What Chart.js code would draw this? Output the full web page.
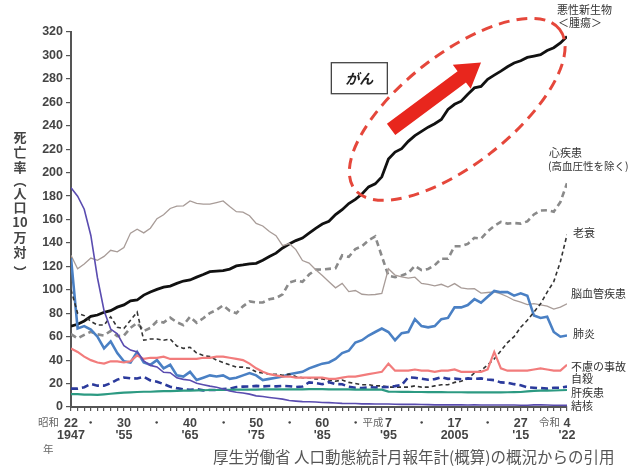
<!DOCTYPE html>
<html>
<head>
<meta charset="utf-8">
<script src="https://cdn.jsdelivr.net/npm/chart.js@4.4.1/dist/chart.umd.min.js"></script>
<style>
  html, body { margin: 0; padding: 0; background: #fff; }
  #wrap { width: 643px; height: 467px; position: relative; }
</style>
</head>
<body>
<div id="wrap"><canvas id="deathChart"></canvas></div>
<script>
// years on the x axis (1947 = 昭和22 ... 2022 = 令和4)
const years = [
  1947, 1948, 1949, 1950, 1951, 1952, 1953, 1954, 1955, 1956,
  1957, 1958, 1959, 1960, 1961, 1962, 1963, 1964, 1965, 1966,
  1967, 1968, 1969, 1970, 1971, 1972, 1973, 1974, 1975, 1976,
  1977, 1978, 1979, 1980, 1981, 1982, 1983, 1984, 1985, 1986,
  1987, 1988, 1989, 1990, 1991, 1992, 1993, 1994, 1995, 1996,
  1997, 1998, 1999, 2000, 2001, 2002, 2003, 2004, 2005, 2006,
  2007, 2008, 2009, 2010, 2011, 2012, 2013, 2014, 2015, 2016,
  2017, 2018, 2019, 2020, 2021, 2022
];

// death rate per 100k, one array per cause
const cancer = [
  69.0, 70.6, 73.4, 77.4, 78.5, 80.8, 82.2, 85.2, 87.1, 90.6,
  91.3, 95.5, 98.2, 100.4, 102.3, 103.2, 105.5, 107.5, 108.4, 110.8,
  113.0, 115.5, 115.9, 116.3, 117.7, 120.4, 121.2, 122.2, 122.6, 125.3,
  128.4, 131.3, 135.7, 139.1, 142.0, 144.2, 148.3, 152.5, 156.1, 158.5,
  164.2, 168.4, 173.6, 177.2, 181.7, 187.8, 190.4, 196.4, 211.6, 217.5,
  220.4, 226.7, 231.6, 235.2, 238.8, 241.7, 245.4, 253.9, 258.3, 261.0,
  266.9, 272.3, 273.5, 279.7, 283.2, 286.6, 290.3, 293.5, 295.5, 298.3,
  299.5, 300.7, 304.2, 306.6, 310.7, 316.1
];
const heart = [
  62.2, 58.5, 61.5, 64.2, 62.0, 61.0, 65.0, 60.5, 60.9, 67.5,
  71.9, 64.8, 67.5, 73.2, 72.1, 76.2, 72.3, 69.9, 77.0, 71.9,
  75.7, 80.2, 82.8, 86.7, 82.1, 80.0, 85.9, 90.1, 89.2, 89.2,
  91.9, 93.0, 96.1, 106.2, 107.9, 106.8, 113.0, 117.2, 117.3, 117.9,
  118.4, 129.4, 128.1, 134.8, 137.2, 142.2, 145.6, 128.6, 112.0, 110.8,
  112.2, 114.3, 120.4, 116.8, 117.8, 121.0, 126.5, 126.5, 137.2, 137.2,
  139.2, 144.4, 143.7, 149.8, 154.5, 157.9, 156.5, 157.0, 156.5, 158.4,
  164.3, 167.6, 167.9, 166.6, 174.9, 190.9
];
const senility = [
  100, 80, 78, 73, 70, 70, 77, 68, 67, 74,
  81, 57, 58, 58, 57, 58, 52, 50, 51, 46,
  44, 43, 40, 38, 36, 34, 34, 33, 30, 29,
  28, 28, 27, 28, 26, 25, 25, 24, 24, 23,
  22, 23, 21, 20, 19, 19, 18, 18, 17, 17,
  17, 17, 18, 17, 17, 18, 19, 19, 21, 22,
  24, 29, 31, 36, 41, 48, 55, 60, 68, 74,
  81, 88, 98, 107, 124, 147
];
const cerebro = [
  129.4, 117.9, 122.0, 127.1, 125.2, 128.5, 133.7, 132.4, 136.1, 148.4,
  151.7, 148.6, 152.6, 160.7, 164.0, 169.4, 171.4, 171.7, 175.8, 173.8,
  173.1, 173.1, 174.4, 175.8, 171.0, 166.7, 166.3, 163.2, 156.7, 154.5,
  149.8, 146.2, 137.7, 139.5, 134.3, 125.0, 122.8, 117.2, 112.2, 106.9,
  101.7, 105.5, 98.5, 99.4, 96.2, 95.6, 96.0, 96.9, 117.9, 112.6,
  111.0, 110.0, 110.8, 105.5, 104.7, 103.4, 104.7, 102.3, 105.3, 101.7,
  100.8, 100.9, 97.2, 97.7, 98.2, 96.5, 94.1, 91.1, 89.4, 87.4,
  88.2, 87.1, 86.1, 83.5, 85.2, 88.1
];
const pneumonia = [
  127, 67, 69, 66, 60, 50, 56, 46, 39, 38,
  47, 38, 36, 40, 33, 36, 27, 26, 30, 23,
  25, 27, 26, 27, 24, 25, 27, 29, 27, 23,
  24, 25, 26, 28, 29, 30, 33, 35, 37, 38,
  41, 46, 48, 55, 57, 61, 64, 67, 64, 57,
  63, 64, 75, 69, 68, 69, 75, 76, 85, 85,
  87, 92, 89, 94, 99, 98, 98, 95, 97, 95,
  78, 76, 77, 64, 60, 61
];
const accident = [
  50, 47, 43, 40, 38, 37, 39, 39, 38, 39,
  44, 41, 42, 42, 43, 41, 41, 41, 41, 41,
  42, 42, 43, 43, 42, 41, 40, 37, 33, 30,
  28, 27, 26, 26, 25, 25, 25, 25, 25, 24,
  24, 25, 26, 26, 27, 28, 29, 30, 37, 31,
  31, 31, 32, 31, 31, 30, 31, 31, 32, 30,
  30, 30, 30, 32, 47, 33, 31, 31, 31, 31,
  32, 33, 32, 31, 31, 36
];
const suicide = [
  15.7, 15.7, 16.9, 19.6, 18.2, 18.2, 20.3, 23.4, 25.2, 24.5,
  24.3, 25.7, 22.7, 21.6, 19.6, 17.3, 16.1, 15.1, 14.7, 15.2,
  14.2, 14.5, 14.5, 15.3, 15.6, 17.0, 17.4, 17.5, 18.0, 17.6,
  17.9, 17.6, 18.0, 17.7, 17.1, 17.5, 21.0, 20.4, 19.4, 21.2,
  19.6, 19.4, 17.3, 16.4, 16.1, 16.9, 16.6, 16.9, 17.2, 17.8,
  18.8, 25.4, 25.0, 24.1, 23.3, 23.8, 25.5, 24.0, 24.2, 23.7,
  24.4, 24.0, 24.4, 23.4, 22.9, 21.0, 20.7, 19.5, 18.5, 16.8,
  16.4, 16.1, 15.7, 16.4, 16.5, 17.4
];
const liver = [
  11.0, 11.0, 10.5, 10.5, 10.3, 10.8, 11.3, 11.8, 12.3, 12.5,
  12.8, 13.0, 13.0, 13.3, 13.5, 13.5, 13.8, 14.0, 14.0, 14.2,
  14.3, 14.5, 14.5, 14.6, 14.6, 14.8, 14.8, 14.9, 14.9, 15.0,
  15.0, 15.0, 15.0, 15.1, 15.1, 15.1, 15.2, 15.2, 15.2, 15.1,
  15.0, 15.0, 15.0, 14.9, 14.9, 14.8, 14.8, 14.8, 13.2, 13.0,
  12.9, 12.9, 12.8, 12.8, 12.7, 12.7, 12.7, 12.6, 12.6, 12.6,
  12.5, 12.5, 12.5, 12.5, 12.5, 12.5, 12.6, 12.7, 12.8, 13.3,
  13.8, 14.0, 14.0, 14.1, 14.3, 14.5
];
const tuberculosis = [
  187.2, 179.9, 168.8, 146.4, 110.3, 82.2, 66.5, 62.4, 52.3, 48.6,
  46.9, 39.4, 35.5, 34.2, 29.6, 29.3, 24.9, 23.6, 22.8, 20.3,
  19.0, 17.8, 16.8, 15.4, 13.7, 12.6, 11.9, 11.0, 9.5, 8.9,
  8.1, 7.4, 6.7, 5.5, 5.0, 4.6, 4.5, 4.3, 3.9, 3.7,
  3.4, 3.1, 3.0, 3.0, 2.7, 2.7, 2.6, 2.6, 2.6, 2.3,
  2.2, 2.2, 2.3, 2.1, 2.0, 1.8, 1.9, 1.8, 1.8, 1.8,
  1.7, 1.8, 1.7, 1.7, 1.7, 1.7, 1.7, 1.7, 1.5, 1.5,
  1.8, 1.8, 1.7, 1.5, 1.5, 1.4
];

// x tick labels
const tickYears  = [1947, 1950, 1955, 1960, 1965, 1970, 1975, 1980, 1985, 1990, 1995, 2000, 2005, 2010, 2015, 2022];
const tickTop    = ['22', '・', '30', '・', '40', '・', '50', '・', '60', '・', '7', '・', '17', '・', '27', '4'];
const tickBottom = ['1947', '', "'55", '', "'65", '', "'75", '', "'85", '', "'95", '', '2005', '', "'15", "'22"];
const eraYears = [1947, 1995, 2022];
const eraNames = ['昭和', '平成', '令和'];
const yTicks = [0, 20, 40, 60, 80, 100, 120, 140, 160, 180, 200, 220, 240, 260, 280, 300, 320];

const jp = '"Noto Sans CJK JP", "Noto Sans", sans-serif';
const num = '"Liberation Sans", Arial, sans-serif';

const series = (data, color, width, dash) => ({
    data: years.map((yr, i) => ({ x: yr, y: data[i] })),
    borderColor: color, borderWidth: width, borderDash: dash || [],
    pointRadius: 0, tension: 0, fill: false
});

const notesPlugin = {
    id: 'notes',
    afterDraw(chart) {
        const { ctx, scales: { x, y } } = chart;
        const px = v => x.getPixelForValue(v), py = v => y.getPixelForValue(v);
        ctx.save();

        // red dashed oval round the cancer line
        ctx.strokeStyle = '#e5473b';
        ctx.lineWidth = 3;
        ctx.setLineDash([11, 7]);
        ctx.beginPath();
        ctx.ellipse(px(2005.4), py(254), 130, 55, -38 * Math.PI / 180, 0, Math.PI * 2);
        ctx.stroke();
        ctx.setLineDash([]);

        // red arrow
        ctx.save();
        const x0 = px(1995.4), y0 = py(237), x1 = px(2009.0), y1 = py(294);
        const len = Math.hypot(x1 - x0, y1 - y0);
        ctx.translate(x0, y0);
        ctx.rotate(Math.atan2(y1 - y0, x1 - x0));
        ctx.fillStyle = '#e8261d';
        ctx.beginPath();
        ctx.moveTo(0, -7); ctx.lineTo(len - 24, -7); ctx.lineTo(len - 24, -15);
        ctx.lineTo(len, 0);
        ctx.lineTo(len - 24, 15); ctx.lineTo(len - 24, 7); ctx.lineTo(0, 7);
        ctx.closePath();
        ctx.fill();
        ctx.restore();

        // がん box
        const bx = px(1990.6), by = py(281);
        ctx.fillStyle = '#fff';
        ctx.strokeStyle = '#444';
        ctx.lineWidth = 1.3;
        ctx.fillRect(bx - 28, by - 15, 56, 31);
        ctx.strokeRect(bx - 28, by - 15, 56, 31);
        ctx.fillStyle = '#222';
        ctx.font = 'italic bold 14px ' + jp;
        ctx.textAlign = 'center';
        ctx.textBaseline = 'middle';
        ctx.fillText('がん', bx, by + 1);

        // series names on the right
        ctx.textAlign = 'left';
        ctx.fillStyle = '#333';
        ctx.font = '11px ' + jp;
        [['悪性新生物', 557, 10], ['＜腫瘍＞', 558, 23], ['心疾患', 549, 153], ['老衰', 573, 233],
         ['脳血管疾患', 571, 294], ['肺炎', 573, 334], ['不慮の事故', 571, 367], ['自殺', 571, 379],
         ['肝疾患', 571, 393], ['結核', 571, 406]].forEach(([t, tx, ty]) => ctx.fillText(t, tx, ty));
        ctx.font = '10.5px ' + jp;
        ctx.fillText('(高血圧性を除く)', 548, 166, 84);

        // y axis title, written top to bottom
        ctx.textAlign = 'center';
        ctx.fillStyle = '#444';
        ctx.font = 'bold 13px ' + jp;
        [['死', 137], ['亡', 152], ['率', 167], ['︵', 180], ['人', 193], ['口', 207], ['10', 222], ['万', 237], ['対', 252], ['︶', 272]]
            .forEach(([t, ty]) => ctx.fillText(t, 20, ty));

        // era names before the x labels
        const eraGap = [12, 5, 7];
        ctx.font = '10.5px ' + jp;
        ctx.fillStyle = '#666';
        ctx.textAlign = 'right';
        eraYears.forEach((yr, i) => ctx.fillText(eraNames[i], px(yr) - eraGap[i], 422));
        ctx.textAlign = 'left';
        ctx.fillText('年', 43, 449);

        // source
        ctx.font = '15.5px ' + jp;
        ctx.fillStyle = '#555';
        ctx.fillText('厚生労働省 人口動態統計月報年計(概算)の概況からの引用', 213, 457, 412);
        ctx.restore();
    }
};

new Chart(document.getElementById('deathChart'), {
    type: 'line',
    data: {
        datasets: [
            series(tuberculosis, '#5a4cb0', 1.6),
            series(liver, '#2c9a82', 2.2),
            series(suicide, '#2b3a9c', 2.6, [7, 4]),
            series(accident, '#f27c7c', 2.2),
            series(senility, '#333333', 1.6, [4, 3]),
            series(pneumonia, '#4a80c4', 2.6),
            series(cerebro, '#a89c98', 1.3),
            series(heart, '#8a8a8a', 2.6, [6, 4]),
            series(cancer, '#111111', 2.8)
        ]
    },
    options: {
        responsive: true, maintainAspectRatio: false, animation: false,
        layout: { padding: { top: 32, right: 76, left: 0, bottom: 0 } },
        plugins: { legend: { display: false }, tooltip: { enabled: false } },
        scales: {
            x: {
                type: 'linear', min: 1947, max: 2022,
                afterBuildTicks: s => { s.ticks = years.map(v => ({ value: v })); },
                afterFit: s => { s.height = 60; },
                grid: { drawOnChartArea: false, drawTicks: true, tickLength: 4, color: '#555', lineWidth: 1.2 },
                border: { color: '#555', width: 2 },
                ticks: {
                    autoSkip: false, maxRotation: 0, minRotation: 0, padding: 6, color: '#444',
                    font: { family: num, size: 12.5, weight: 'bold', lineHeight: 1.0 },
                    callback: v => {
                        const i = tickYears.indexOf(v);
                        if (i < 0) return '';
                        return tickBottom[i] ? [tickTop[i], tickBottom[i]] : tickTop[i];
                    }
                }
            },
            y: {
                min: 0, max: 320,
                afterBuildTicks: s => { s.ticks = yTicks.map(v => ({ value: v })); },
                afterFit: s => { s.width = 71; },
                grid: { drawOnChartArea: false, drawTicks: true, tickLength: 5, color: '#555', lineWidth: 1.2 },
                border: { color: '#555', width: 2 },
                ticks: { padding: 3, color: '#444', font: { family: num, size: 12.5, weight: 'bold' } }
            }
        }
    },
    plugins: [notesPlugin]
});
</script>
</body>
</html>
